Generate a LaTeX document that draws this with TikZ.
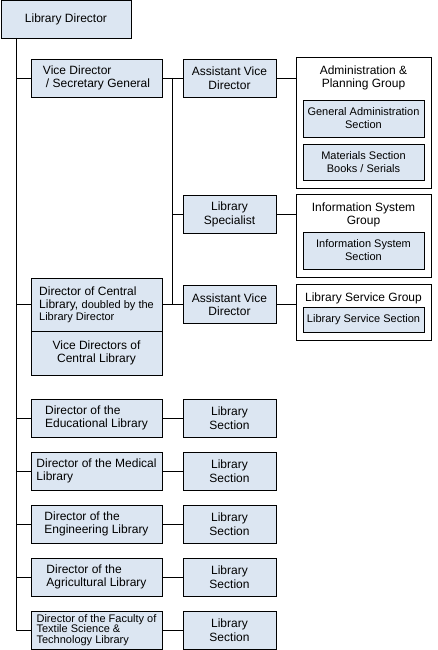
\documentclass[tikz,border=0pt]{standalone}
\usepackage{fontspec}
\setmainfont{Liberation Sans}
\usetikzlibrary{positioning,calc,fit}
\definecolor{boxblue}{RGB}{220,230,242}

\begin{document}
\begin{tikzpicture}[
    x=1pt, y=-1pt,
    line width=0.9pt,
    font=\fontsize{12}{13.5}\selectfont,
    node distance=21pt,
    bluebox/.style={
        draw=black, fill=boxblue, inner sep=2pt, outer sep=0pt
      },
    dirbox/.style={bluebox, minimum width=131pt, minimum height=38pt, align=left},
    midbox/.style={bluebox, minimum width=93pt, minimum height=38pt, align=center},
    sectbox/.style={bluebox, minimum width=121pt, align=center,
        font=\fontsize{11}{13}\selectfont},
    grouptitle/.style={inner sep=0pt, align=center},
    groupbox/.style={draw=black, inner xsep=7pt, inner ysep=8pt, outer sep=0pt},
  ]
  \useasboundingbox (0,0) rectangle (438,650);

  \node[bluebox, minimum width=130pt, minimum height=38pt] (director) at (66,19) {Library Director};

  \node[dirbox](vice) at (96.5,78) {Vice Director\\\hspace{3pt}/ Secretary General};
  \node[dirbox, minimum height=53pt](central) at (96.5,304.5)
    {Director of Central\\Library, {\fontsize{11}{11}\selectfont doubled by the}\\[-2pt]
     {\fontsize{11}{11}\selectfont Library Director}};
  \node[dirbox, minimum height=44pt, align=center](vicecentral) [below=0pt of central]
    {Vice Directors of\\Central Library};
  \node[dirbox](edu) [below=24pt of vicecentral] {Director of the\\Educational Library};
  \node[dirbox](medical) [below=15pt of edu] {Director of the Medical\\Library};
  \node[dirbox](engineering) [below=15pt of medical] {Director of the\\Engineering Library};
  \node[dirbox](agri) [below=15pt of engineering] {Director of the\\Agricultural Library};
  \node[dirbox, font=\fontsize{11}{10.5}\selectfont](faculty) [below=15pt of agri]
    {Director of the Faculty of\\Textile Science \&\\Technology Library};

  \node[midbox](asst1) [right=of vice] {Assistant Vice\\Director};
  \node[midbox](specialist) at (229.5,214.5) {Library\\Specialist};
  \node[midbox](asst2) [right=of central] {Assistant Vice\\Director};
  \node[midbox](edusec) [right=of edu] {Library\\Section};
  \node[midbox](medsec) [right=of medical] {Library\\Section};
  \node[midbox](engsec) [right=of engineering] {Library\\Section};
  \node[midbox](agrisec) [right=of agri] {Library\\Section};
  \node[midbox](facsec) [right=of faculty] {Library\\Section};

  % groups on the right
  \node[grouptitle](admintitle) at (363.5,78) {Administration \&\\Planning Group};
  \node[sectbox, minimum height=37pt](genadmin) at (363.5,118.5) {General Administration\\Section};
  \node[sectbox, minimum height=36pt](materials) [below=7pt of genadmin] {Materials Section\\Books / Serials};
  \node[groupbox, fit=(admintitle)(genadmin)(materials)](admin) {};

  \node[grouptitle](infotitle) at (363.5,215) {Information System\\Group};
  \node[sectbox, minimum height=37pt](infosec) at (363.5,250.5) {Information System\\Section};
  \node[groupbox, fit=(infotitle)(infosec)](info) {};

  \node[grouptitle](servtitle) at (363.5,298) {Library Service Group};
  \node[sectbox, minimum height=25pt](servsec) at (363.5,319.5) {Library Service Section};
  \node[groupbox, fit=(servtitle)(servsec)](service) {};

  % connectors
  \draw (director.south west) ++(15pt,0) coordinate (trunk) |- (faculty.west);
  \coordinate (spine) at ($(vice.east)!0.5!(asst1.west)$);
  \draw (spine) |- (asst2.west);
  \path[draw]
    (vice.west) -- (vice.west -| trunk)
    (central.west) -- (central.west -| trunk)
    (edu.west) -- (edu.west -| trunk)
    (medical.west) -- (medical.west -| trunk)
    (engineering.west) -- (engineering.west -| trunk)
    (agri.west) -- (agri.west -| trunk)
    (vice.east) -- (asst1.west)
    (spine |- specialist.west) -- (specialist.west)
    (central.east) -- (asst2.west)
  ;
  \path[-]
    (edu) edge [] (edusec)
    (medical) edge [] (medsec)
    (engineering) edge [] (engsec)
    (agri) edge [] (agrisec)
    (faculty) edge [] (facsec)
    (asst1.east) edge [] (asst1.east -| admin.west)
    (specialist.east) edge [] (specialist.east -| info.west)
    (asst2.east) edge [] (asst2.east -| service.west)
  ;
\end{tikzpicture}
\end{document}
